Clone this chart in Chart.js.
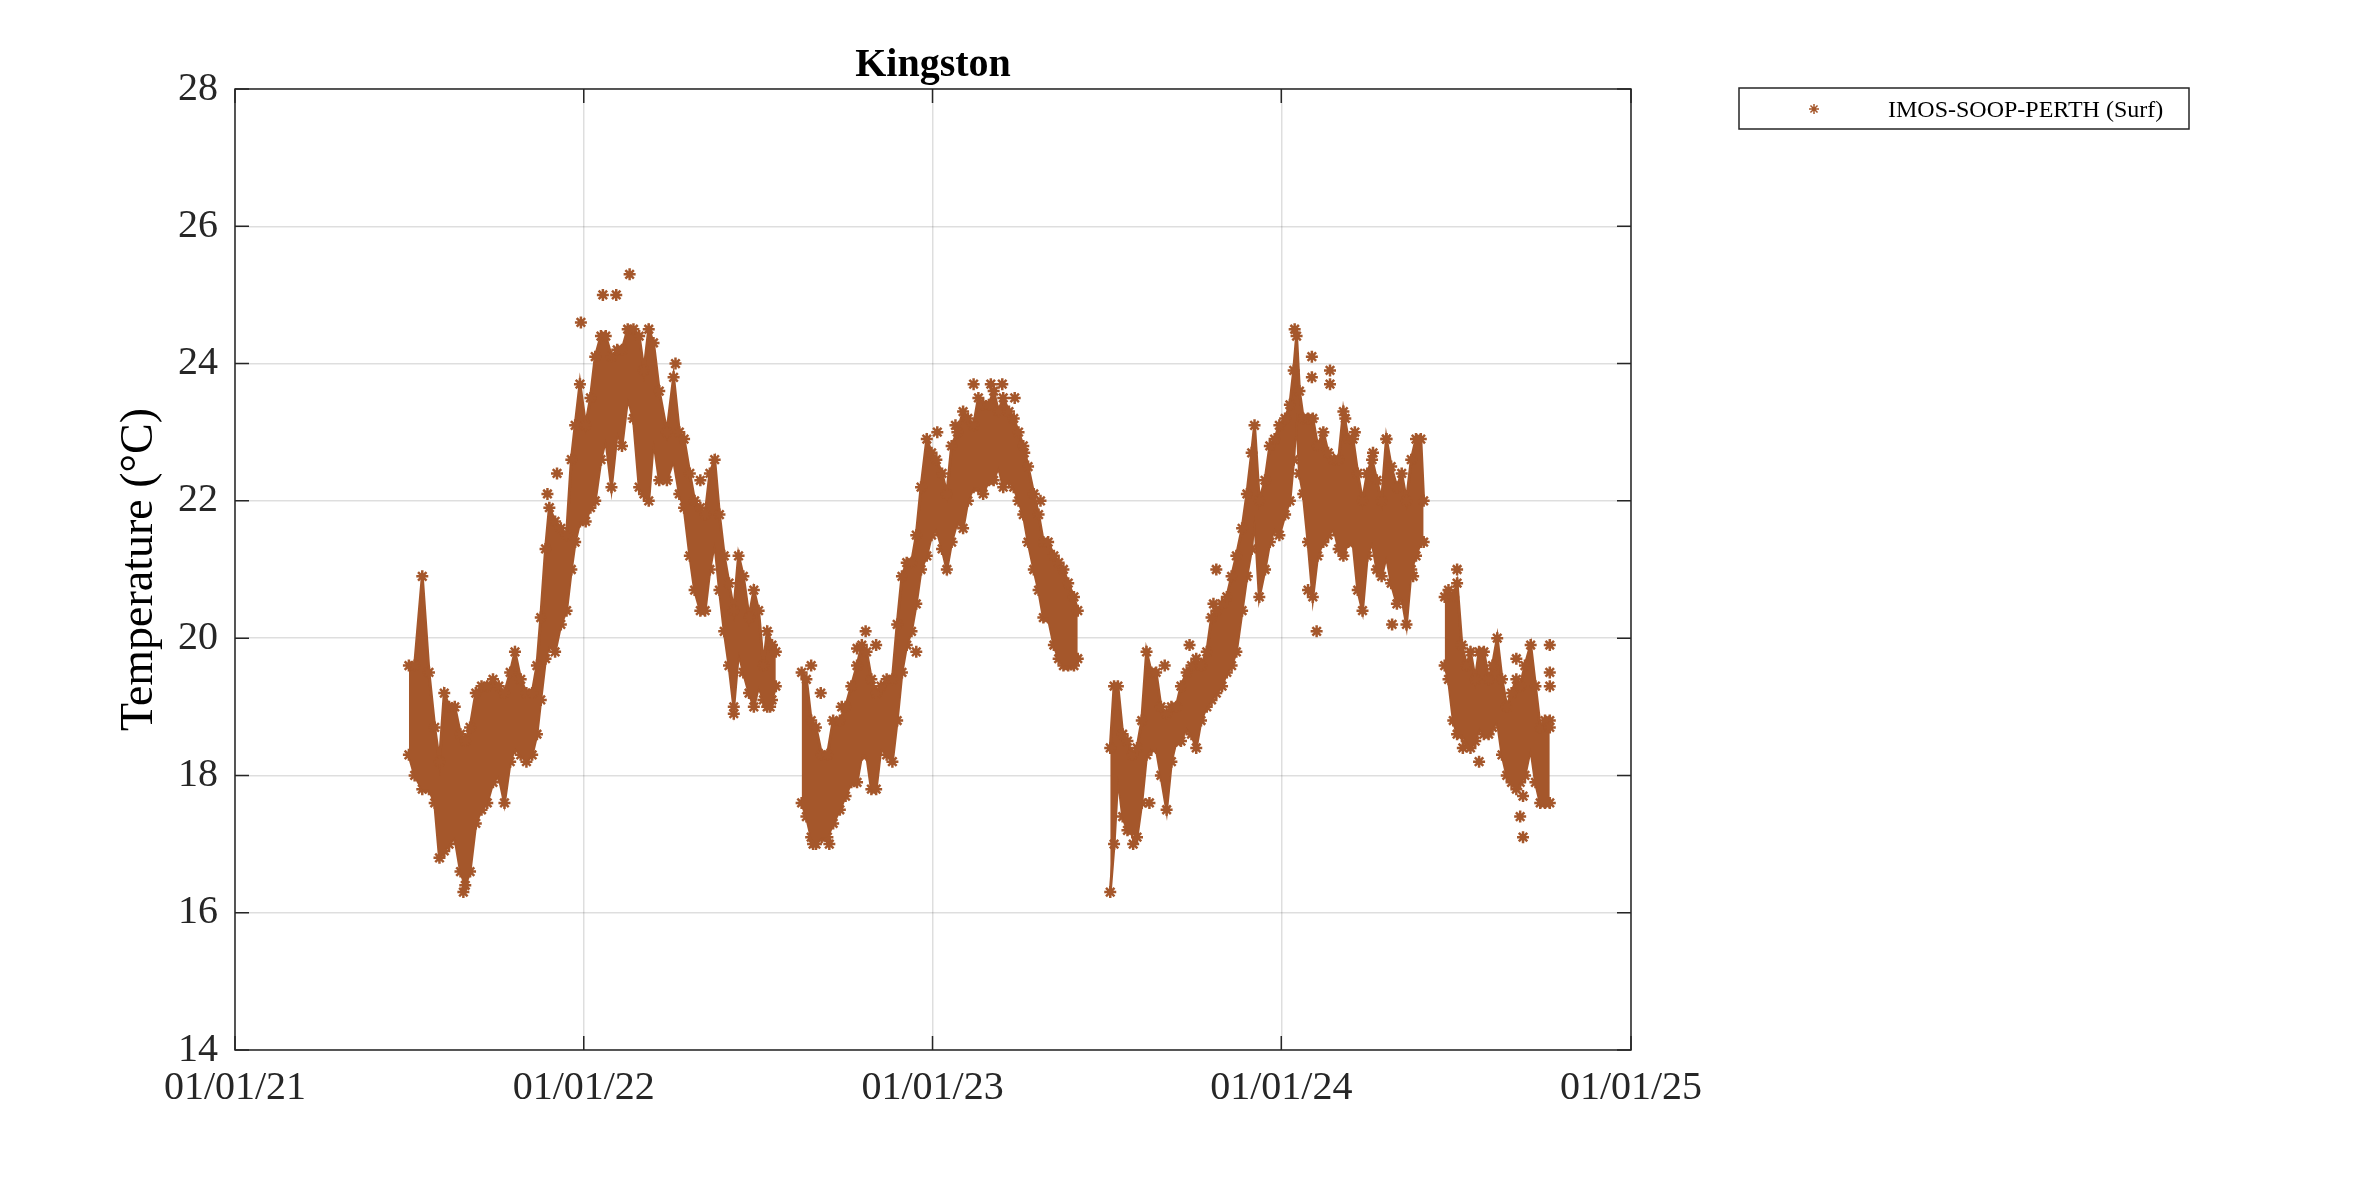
<!DOCTYPE html>
<html>
<head>
<meta charset="utf-8">
<title>Kingston</title>
<script src="https://cdn.jsdelivr.net/npm/chart.js@4.4.1/dist/chart.umd.min.js"></script>
<style>
  html, body { margin: 0; padding: 0; background: #fff; }
  #chart { display: block; }
</style>
</head>
<body>
<canvas id="chart" width="2362" height="1181" style="width:2362px;height:1181px"></canvas>
<script>
// days since 01/01/21, with the daily spread of surface temperature (°C)
// null entries mark the gaps between the seasons
const dayOffsets = [
  182, 188, 196, 203, 209, 214, 219, 224, 230, 236, 241, 246, 252, 258, 264, 270, 276, 282, 288, 293,
  299, 305, 311, 316, 320, 325, 329, 335, 341, 347, 352, 356, 361, 367, 372, 377, 383, 388, 394, 400,
  405, 411, 417, 423, 428, 433, 438, 444, 452, 459, 465, 470, 476, 481, 487, 492, 497, 502, 507, 512,
  517, 522, 527, 532, 538, 543, 548, 553, 557, 562, 566,
  580,
  593, 598, 603, 608, 614, 620, 626, 633, 639, 645, 651, 656, 661, 666, 671, 676, 682, 688, 693, 698,
  703, 708, 713, 718, 724, 729, 734, 740, 745, 750, 756, 762, 767, 773, 778, 783, 789, 794, 799, 804,
  810, 815, 820, 825, 830, 836, 841, 846, 851, 857, 862, 867, 872, 878, 882,
  900,
  916, 920, 924, 929, 934, 939, 944, 949, 954, 959, 964, 969, 975, 980, 985, 990, 996, 1001, 1006, 1011,
  1017, 1022, 1027, 1033, 1038, 1043, 1048, 1054, 1059, 1064, 1067, 1072, 1078, 1083, 1088, 1093, 1099, 1104, 1108, 1111,
  1114, 1118, 1123, 1128, 1133, 1139, 1144, 1150, 1155, 1160, 1165, 1170, 1175, 1180, 1185, 1190, 1195, 1200, 1205, 1210,
  1216, 1221, 1226, 1231, 1236, 1241, 1244,
  1255,
  1266, 1270, 1275, 1279, 1284, 1289, 1293, 1298, 1302, 1307, 1312, 1316, 1321, 1326, 1331, 1336, 1341, 1345, 1350, 1356,
  1361, 1366, 1371, 1376
];
const tempHigh = [
  19.6, 19.6, 20.9, 19.5, 18.7, 18.2, 19.2, 19.0, 19.0, 18.6, 18.5, 18.7, 19.2, 19.3, 19.3, 19.4, 19.3, 19.2, 19.5, 19.8,
  19.4, 19.2, 19.2, 19.6, 20.3, 21.3, 21.9, 21.7, 21.6, 21.5, 22.6, 23.1, 23.7, 23.1, 23.5, 24.1, 24.4, 24.4, 24.1, 24.2,
  24.2, 24.5, 24.5, 24.4, 23.9, 24.5, 24.3, 23.6, 23.0, 23.8, 23.0, 22.9, 22.4, 22.0, 21.9, 21.8, 22.4, 22.6, 21.8, 21.2,
  20.8, 20.4, 21.2, 20.9, 20.3, 20.7, 20.4, 19.6, 20.1, 19.9, 19.8,
  null,
  19.5, 19.4, 18.8, 18.7, 18.3, 18.3, 18.8, 18.8, 19.0, 19.3, 19.6, 19.9, 19.8, 19.4, 19.2, 19.3, 19.4, 19.4, 20.2, 20.9,
  21.1, 21.1, 21.5, 22.2, 22.9, 22.7, 22.6, 22.4, 22.1, 22.8, 23.0, 23.3, 23.2, 23.1, 23.5, 23.4, 23.4, 23.6, 23.3, 23.5,
  23.3, 23.2, 23.0, 22.8, 22.5, 22.1, 21.8, 21.4, 21.4, 21.2, 21.1, 21.0, 20.8, 20.6, 20.4,
  null,
  18.4, 19.3, 19.3, 18.6, 18.5, 18.3, 18.4, 18.8, 19.8, 19.5, 19.5, 19.0, 18.9, 19.0, 19.0, 19.3, 19.5, 19.6, 19.7, 19.6,
  19.8, 20.3, 20.4, 20.5, 20.6, 20.9, 21.2, 21.6, 22.1, 22.7, 23.1, 22.0, 22.3, 22.8, 22.9, 23.1, 23.2, 23.4, 23.9, 24.4,
  23.6, 23.2, 23.2, 23.2, 22.8, 23.0, 22.7, 22.6, 22.6, 23.3, 22.9, 22.9, 22.4, 22.0, 22.4, 22.6, 22.3, 22.0, 22.9, 22.5,
  22.2, 22.4, 22.0, 22.6, 22.9, 22.9, 22.0,
  null,
  20.6, 20.7, 20.6, 20.8, 19.9, 19.6, 19.8, 19.4, 19.8, 19.8, 19.4, 19.6, 20.0, 19.4, 19.0, 19.2, 19.4, 19.3, 19.6, 19.9,
  19.3, 18.7, 18.8, 18.7
];
const tempLow = [
  18.3, 18.0, 17.8, 17.8, 17.6, 16.8, 16.9, 17.0, 17.1, 16.6, 16.4, 16.6, 17.3, 17.5, 17.6, 17.9, 18.0, 17.6, 18.2, 18.4,
  18.3, 18.2, 18.3, 18.6, 19.1, 19.7, 19.9, 19.8, 20.2, 20.4, 21.0, 21.4, 21.7, 21.7, 21.9, 22.0, 22.6, 22.9, 22.2, 23.0,
  22.8, 23.5, 23.2, 22.2, 22.1, 22.0, 22.9, 22.3, 22.3, 22.6, 22.1, 21.9, 21.2, 20.7, 20.4, 20.4, 21.0, 21.4, 20.7, 20.1,
  19.6, 19.0, 19.8, 19.5, 19.2, 19.0, 19.3, 19.1, 19.0, 19.1, 19.3,
  null,
  17.6, 17.4, 17.1, 17.0, 17.1, 17.1, 17.3, 17.5, 17.7, 17.9, 17.9, 18.3, 18.3, 17.8, 17.8, 18.4, 18.3, 18.2, 18.8, 19.5,
  19.9, 20.1, 20.5, 21.0, 21.2, 21.5, 21.6, 21.3, 21.0, 21.4, 21.7, 21.6, 22.0, 22.2, 22.2, 22.1, 22.3, 22.3, 22.5, 22.2,
  22.3, 22.2, 22.0, 21.8, 21.4, 21.0, 20.7, 20.3, 20.3, 19.9, 19.7, 19.6, 19.6, 19.6, 19.7,
  null,
  16.3, 17.0, 18.0, 17.4, 17.2, 17.2, 17.1, 17.6, 18.3, 18.4, 18.4, 18.0, 17.5, 18.2, 18.5, 18.5, 18.7, 18.6, 18.4, 18.8,
  19.0, 19.1, 19.2, 19.3, 19.5, 19.6, 19.8, 20.4, 20.9, 21.3, 21.8, 20.6, 21.0, 21.4, 21.6, 21.5, 21.8, 22.0, 22.6, 23.3,
  22.4, 22.1, 21.4, 20.6, 21.2, 21.4, 21.5, 21.6, 21.3, 21.2, 21.4, 21.4, 20.7, 20.4, 21.2, 21.4, 21.0, 20.9, 21.2, 20.8,
  20.5, 20.6, 20.2, 21.0, 21.2, 21.4, 21.4,
  null,
  19.6, 19.4, 18.8, 18.6, 18.6, 18.5, 18.4, 18.5, 18.7, 18.6, 18.6, 18.7, 18.8, 18.3, 18.0, 17.9, 17.8, 17.9, 18.0, 18.4,
  17.9, 17.6, 17.6, 17.6
];

// single readings standing away from the main band
const outlierDays = [
  239, 327, 337, 362, 385, 399, 413, 461, 487, 522, 560, 603, 605, 613, 622, 635, 651, 660, 671,
  713, 735, 754, 773, 791, 803, 816, 826, 843, 940, 957, 973, 999, 1024, 1027, 1109, 1123, 1127, 1127,
  1132, 1146, 1146, 1162, 1172, 1191, 1205, 1211, 1233, 1279, 1285, 1302, 1341, 1345, 1348, 1348,
  1376, 1376, 1376, 1376
];
const outlierTemps = [
  16.3, 22.1, 22.4, 24.6, 25.0, 25.0, 25.3, 24.0, 22.3, 18.9, 19.0, 19.6, 17.0, 19.2, 17.0, 19.0, 19.85, 20.1, 19.9,
  19.8, 23.0, 23.1, 23.7, 23.7, 23.7, 23.5, 22.7, 22.0, 17.0, 17.6, 19.6, 19.9, 20.5, 21.0, 24.5, 20.7, 24.1, 23.8,
  20.1, 23.9, 23.7, 23.2, 23.0, 22.7, 22.9, 20.2, 20.9, 21.0, 18.4, 18.2, 19.7, 17.4, 17.1, 17.7,
  19.9, 19.5, 19.3, 18.8
];

const tickDays = [0, 365, 730, 1095, 1461];
const tickLabels = ['01/01/21', '01/01/22', '01/01/23', '01/01/24', '01/01/25'];
const yTicks = [14, 16, 18, 20, 22, 24, 26, 28];

const seriesName = 'IMOS-SOOP-PERTH (Surf)';
const brown = '#A5572B';
const axisColor = '#262626';
const serif = '"Liberation Serif", "Times New Roman", serif';

const toPoints = (ys) => dayOffsets.map((d, i) => ({ x: d, y: ys[i] }));

// box, inward ticks, title and legend the MATLAB way
const framePlugin = {
  id: 'frame',
  afterDraw(chart) {
    const { ctx, chartArea: a, scales } = chart;
    const tl = 14;
    ctx.save();
    ctx.strokeStyle = axisColor;
    ctx.lineWidth = 1.5;
    ctx.strokeRect(a.left, a.top, a.right - a.left, a.bottom - a.top);
    ctx.beginPath();
    tickDays.forEach(v => {
      const x = scales.x.getPixelForValue(v);
      ctx.moveTo(x, a.bottom); ctx.lineTo(x, a.bottom - tl);
      ctx.moveTo(x, a.top); ctx.lineTo(x, a.top + tl);
    });
    yTicks.forEach(v => {
      const y = scales.y.getPixelForValue(v);
      ctx.moveTo(a.left, y); ctx.lineTo(a.left + tl, y);
      ctx.moveTo(a.right, y); ctx.lineTo(a.right - tl, y);
    });
    ctx.stroke();

    ctx.fillStyle = '#000';
    ctx.font = 'bold 40px ' + serif;
    ctx.textAlign = 'center';
    ctx.textBaseline = 'alphabetic';
    ctx.fillText('Kingston', (a.left + a.right) / 2, 76);

    // legend box
    ctx.lineWidth = 1.5;
    ctx.strokeStyle = axisColor;
    ctx.strokeRect(1739, 88, 450, 41);
    ctx.strokeStyle = brown;
    Chart.helpers.drawPoint(ctx, { pointStyle: 'star', radius: 5, borderWidth: 2 }, 1814, 109);
    ctx.fillStyle = '#000';
    ctx.font = '24px ' + serif;
    ctx.textAlign = 'left';
    ctx.fillText(seriesName, 1888, 117);
    ctx.restore();
  }
};

new Chart(document.getElementById('chart'), {
  type: 'line',
  data: {
    datasets: [
      {
        label: seriesName,
        data: toPoints(tempHigh),
        borderColor: brown,
        backgroundColor: brown,
        borderWidth: 3,
        pointStyle: 'star',
        pointRadius: 6,
        pointBorderWidth: 2.5,
        pointBorderColor: brown,
        fill: '+1',
        spanGaps: false,
        tension: 0
      },
      {
        label: seriesName + ' low',
        data: toPoints(tempLow),
        borderColor: brown,
        backgroundColor: brown,
        borderWidth: 3,
        pointStyle: 'star',
        pointRadius: 6,
        pointBorderWidth: 2.5,
        pointBorderColor: brown,
        fill: false,
        spanGaps: false,
        tension: 0
      },
      {
        label: seriesName + ' single',
        data: outlierDays.map((d, i) => ({ x: d, y: outlierTemps[i] })),
        showLine: false,
        pointStyle: 'star',
        pointRadius: 6,
        pointBorderWidth: 2.5,
        pointBorderColor: brown,
        borderColor: brown,
        fill: false
      }
    ]
  },
  options: {
    responsive: false,
    animation: false,
    events: [],
    layout: { padding: { top: 89, right: 731, bottom: 0, left: 0 } },
    plugins: {
      legend: { display: false },
      title: { display: false },
      tooltip: { enabled: false }
    },
    scales: {
      x: {
        type: 'linear',
        min: 0,
        max: 1461,
        afterBuildTicks: (scale) => { scale.ticks = tickDays.map(v => ({ value: v })); },
        afterFit: (scale) => { scale.height = 131; },
        ticks: {
          autoSkip: false,
          maxRotation: 0,
          padding: 14,
          color: axisColor,
          font: { family: serif, size: 40 },
          callback: (v) => tickLabels[tickDays.indexOf(v)]
        },
        grid: { color: 'rgba(0,0,0,0.13)', lineWidth: 1.5, drawTicks: false },
        border: { display: false }
      },
      y: {
        min: 14,
        max: 28,
        afterBuildTicks: (scale) => { scale.ticks = yTicks.map(v => ({ value: v })); },
        afterFit: (scale) => { scale.width = 235; },
        ticks: {
          padding: 17,
          color: axisColor,
          font: { family: serif, size: 40 }
        },
        grid: { color: 'rgba(0,0,0,0.13)', lineWidth: 1.5, drawTicks: false },
        border: { display: false },
        title: {
          display: true,
          text: 'Temperature (°C)',
          color: '#000',
          font: { family: serif, size: 46 },
          padding: { top: 112, bottom: 0 }
        }
      }
    }
  },
  plugins: [framePlugin]
});
</script>
</body>
</html>
